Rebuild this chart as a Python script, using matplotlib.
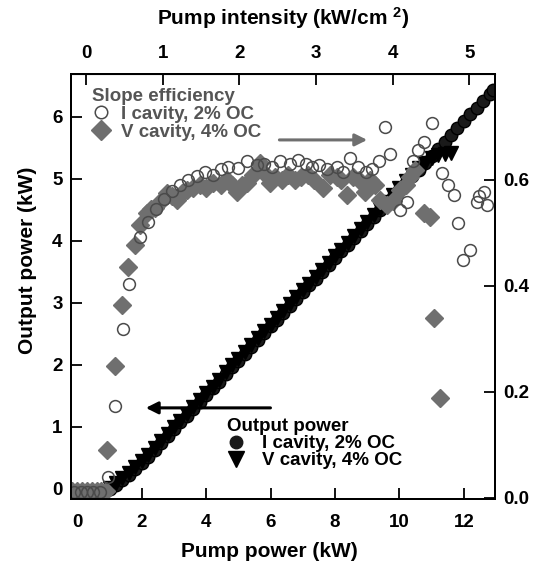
import matplotlib
matplotlib.use("Agg")
import matplotlib.pyplot as plt
from matplotlib.lines import Line2D

plt.rcParams["font.family"] = ["Liberation Sans", "DejaVu Sans"]
plt.rcParams["font.weight"] = "bold"
plt.rcParams["mathtext.fontset"] = "custom"
plt.rcParams["mathtext.rm"] = "Liberation Sans:bold"
plt.rcParams["mathtext.it"] = "Liberation Sans:bold"
plt.rcParams["mathtext.bf"] = "Liberation Sans:bold"

# ---- Output power (left axis) ---------------------------------------------
pump_i = [1.0, 1.2, 1.4, 1.6, 1.8, 2.0, 2.2, 2.4, 2.6, 2.8, 3.0, 3.2, 3.4, 3.6,
          3.8, 4.0, 4.2, 4.4, 4.6, 4.8, 5.0, 5.2, 5.4, 5.6, 5.8, 6.0, 6.2, 6.4,
          6.6, 6.8, 7.0, 7.2, 7.4, 7.6, 7.8, 8.0, 8.2, 8.4, 8.6, 8.8, 9.0, 9.2,
          9.4, 9.6, 9.8, 10.0, 10.2, 10.4, 10.6, 10.8, 11.0, 11.2, 11.4, 11.6,
          11.8, 12.0, 12.2, 12.4, 12.6, 12.8, 12.9]
out_i = [0.00, 0.06, 0.14, 0.23, 0.32, 0.42, 0.52, 0.63, 0.74, 0.85, 0.96, 1.07,
         1.18, 1.29, 1.40, 1.51, 1.62, 1.73, 1.85, 1.96, 2.07, 2.18, 2.29, 2.40,
         2.51, 2.62, 2.73, 2.84, 2.95, 3.06, 3.17, 3.28, 3.39, 3.50, 3.61, 3.72,
         3.83, 3.94, 4.05, 4.16, 4.27, 4.38, 4.49, 4.60, 4.71, 4.82, 4.93, 5.04,
         5.15, 5.26, 5.37, 5.48, 5.60, 5.71, 5.82, 5.93, 6.04, 6.15, 6.26, 6.37,
         6.44]

pump_v = [1.0, 1.2, 1.4, 1.6, 1.8, 2.0, 2.2, 2.4, 2.6, 2.8, 3.0, 3.2, 3.4, 3.6,
          3.8, 4.0, 4.2, 4.4, 4.6, 4.8, 5.0, 5.2, 5.4, 5.6, 5.8, 6.0, 6.2, 6.4,
          6.6, 6.8, 7.0, 7.2, 7.4, 7.6, 7.8, 8.0, 8.2, 8.4, 8.6, 8.8, 9.0, 9.2,
          9.4, 9.6, 9.8, 10.0, 10.2, 10.4, 10.6, 10.8, 11.0, 11.2, 11.4, 11.6]
out_v = [0.02, 0.09, 0.17, 0.26, 0.35, 0.45, 0.55, 0.66, 0.77, 0.88, 0.99, 1.10,
         1.21, 1.32, 1.43, 1.54, 1.65, 1.76, 1.88, 1.99, 2.10, 2.21, 2.32, 2.43,
         2.54, 2.65, 2.76, 2.87, 2.98, 3.09, 3.20, 3.31, 3.42, 3.53, 3.64, 3.75,
         3.86, 3.97, 4.08, 4.19, 4.30, 4.41, 4.52, 4.63, 4.74, 4.85, 4.96, 5.07,
         5.17, 5.26, 5.33, 5.38, 5.40, 5.42]

# ---- Slope efficiency (right axis) ----------------------------------------
se_pump_i = [-0.1, 0.1, 0.3, 0.5, 0.7, 0.96, 1.17, 1.41, 1.61, 1.95, 2.2, 2.45,
             2.7, 2.95, 3.2, 3.45, 3.7, 3.97, 4.2, 4.45, 4.69, 5.0, 5.26, 5.57,
             5.8, 6.05, 6.3, 6.6, 6.86, 7.1, 7.3, 7.49, 7.75, 8.06, 8.25, 8.47,
             8.7, 8.95, 9.15, 9.35, 9.56, 9.71, 10.02, 10.23, 10.43, 10.59,
             10.75, 11.0, 11.32, 11.52, 11.68, 11.83, 11.98, 12.2, 12.4, 12.46,
             12.61, 12.71]
se_i = [0.01, 0.01, 0.01, 0.01, 0.01, 0.04, 0.174, 0.318, 0.404, 0.493, 0.52,
        0.545, 0.565, 0.58, 0.59, 0.60, 0.607, 0.616, 0.61, 0.62, 0.625, 0.622,
        0.635, 0.628, 0.63, 0.625, 0.635, 0.63, 0.638, 0.63, 0.625, 0.628, 0.62,
        0.625, 0.615, 0.641, 0.625, 0.615, 0.62, 0.635, 0.70, 0.65, 0.543,
        0.559, 0.635, 0.657, 0.672, 0.707, 0.613, 0.59, 0.572, 0.519, 0.449,
        0.468, 0.559, 0.569, 0.578, 0.553]

se_pump_v = [-0.15, 0.0, 0.15, 0.3, 0.45, 0.6, 0.75, 0.9, 0.91, 1.17, 1.38,
             1.58, 1.79, 1.95, 2.15, 2.3, 2.41, 2.6, 2.78, 2.95, 3.09, 3.25,
             3.4, 3.6, 3.81, 4.0, 4.22, 4.45, 4.64, 4.8, 4.95, 5.1, 5.26, 5.45,
             5.67, 5.85, 5.98, 6.15, 6.35, 6.55, 6.75, 6.95, 7.15, 7.35, 7.64,
             7.85, 8.05, 8.2, 8.37, 8.55, 8.75, 8.93, 9.1, 9.25, 9.4, 9.61, 9.8,
             10.02, 10.2, 10.33, 10.49, 10.75, 10.95, 11.06, 11.26]
se_v = [0.012, 0.012, 0.012, 0.012, 0.012, 0.012, 0.012, 0.012, 0.09, 0.249,
        0.364, 0.435, 0.477, 0.515, 0.537, 0.545, 0.547, 0.56, 0.575, 0.57,
        0.562, 0.575, 0.581, 0.585, 0.59, 0.585, 0.594, 0.59, 0.60, 0.59,
        0.578, 0.59, 0.594, 0.61, 0.632, 0.61, 0.594, 0.605, 0.60, 0.61, 0.60,
        0.605, 0.61, 0.60, 0.584, 0.61, 0.605, 0.60, 0.572, 0.605, 0.60,
        0.578, 0.60, 0.59, 0.562, 0.553, 0.56, 0.581, 0.59, 0.606, 0.619,
        0.537, 0.531, 0.339, 0.188]

x_ticks = [0, 2, 4, 6, 8, 10, 12]
y_ticks = [0, 1, 2, 3, 4, 5, 6]
se_ticks = [0.0, 0.2, 0.4, 0.6]
top_ticks = [0, 1, 2, 3, 4, 5]

GRAY = "#6f6f6f"
EDGE = "#4a4a4a"
TICKFS = 13.5
LABELFS = 15
LEGFS = 13.5


def p2i(p):
    return (p - 0.27) / 2.38


def i2p(i):
    return i * 2.38 + 0.27


fig = plt.figure(figsize=(5.37, 5.70), dpi=100)
ax = fig.add_axes([0.132, 0.125, 0.790, 0.745])
ax2 = ax.twinx()

ax.plot(pump_i, out_i, "o", color="#1a1a1a", mec="black", ms=9, zorder=3)
ax.plot(pump_v, out_v, "v", color="black", ms=10, zorder=3)

ax2.plot(se_pump_v, se_v, "D", color=GRAY, mec=GRAY, ms=9)
ax2.plot(se_pump_i, se_i, "o", mfc="none", mec=EDGE, mew=1.1, ms=8.5)

ax.set_xlim(-0.2, 12.97)
ax.set_ylim(-0.16, 6.69)
ax2.set_ylim(-0.002, 0.80)

ax.set_xticks(x_ticks)
ax.set_yticks(y_ticks)
ax2.set_yticks(se_ticks)
ax2.set_yticklabels([f"{t:.1f}" for t in se_ticks])

for a in (ax, ax2):
    a.tick_params(direction="in", length=8, width=1.3, labelsize=TICKFS, pad=6)
    for s in a.spines.values():
        s.set_linewidth(1.4)
ax.tick_params(axis="x", pad=11)

ax.set_xlabel("Pump power (kW)", fontsize=LABELFS, fontweight="bold")
ax.xaxis.set_label_coords(0.467, -0.103)
ax.set_ylabel("Output power (kW)", fontsize=LABELFS, fontweight="bold")
ax.yaxis.set_label_coords(-0.08, 0.562)

top = ax.secondary_xaxis("top", functions=(p2i, i2p))
top.set_xticks(top_ticks)
top.tick_params(direction="in", length=8, width=1.3, labelsize=TICKFS, pad=9)
top.set_xlabel("Pump intensity (kW/cm $^{2}$)", fontsize=LABELFS,
               fontweight="bold", labelpad=14)

# arrows pointing to each axis
ax.annotate("", xy=(0.705, 0.845), xytext=(0.485, 0.845),
            xycoords="axes fraction",
            arrowprops=dict(arrowstyle="-|>", color=GRAY, lw=2.2,
                            mutation_scale=18))
ax.annotate("", xy=(0.17, 0.214), xytext=(0.477, 0.214),
            xycoords="axes fraction",
            arrowprops=dict(arrowstyle="-|>", color="black", lw=2.2,
                            mutation_scale=18))

se_handles = [
    Line2D([], [], ls="none", marker="o", mfc="none", mec=EDGE, mew=1.1, ms=9),
    Line2D([], [], ls="none", marker="D", color=GRAY, ms=10),
]
leg1 = ax2.legend(se_handles, ["I cavity, 2% OC", "V cavity, 4% OC"],
                  title="Slope efficiency", loc="upper left",
                  bbox_to_anchor=(0.05, 0.968), frameon=False, fontsize=LEGFS,
                  title_fontsize=LEGFS, handlelength=1.0, handletextpad=0.55,
                  labelspacing=0.05, alignment="left", borderaxespad=0,
                  borderpad=0)
leg1.get_title().set_color("#555555")
leg1.get_title().set_fontweight("bold")
for t in leg1.get_texts():
    t.set_color("#555555")

out_handles = [
    Line2D([], [], ls="none", marker="o", color="#1a1a1a", ms=9),
    Line2D([], [], ls="none", marker="v", color="black", ms=12),
]
leg2 = ax2.legend(out_handles, ["I cavity, 2% OC", "V cavity, 4% OC"],
                  title="Output power", loc="upper left",
                  bbox_to_anchor=(0.368, 0.19), frameon=False, fontsize=LEGFS,
                  title_fontsize=LEGFS, handlelength=1.0, handletextpad=0.85,
                  labelspacing=0.0, alignment="left", borderaxespad=0,
                  borderpad=0)
leg2.get_title().set_fontweight("bold")
ax2.add_artist(leg1)

fig.savefig("out.png", dpi=100)
